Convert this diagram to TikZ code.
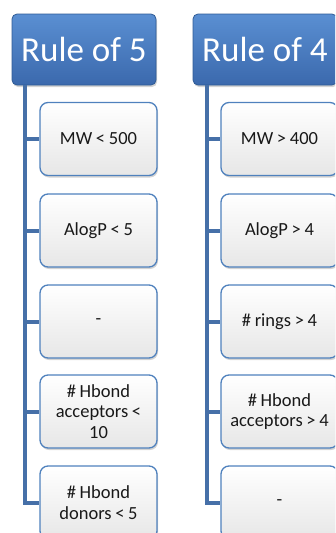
\documentclass[tikz,border=0pt]{standalone}
\usepackage{fontspec}
\setmainfont{Carlito}
\usetikzlibrary{shadows}
\definecolor{hdrtop}{HTML}{5A8FD2}
\definecolor{hdrbot}{HTML}{3B69AD}
\definecolor{hdredge}{HTML}{2F5B95}
\definecolor{itemedge}{HTML}{4F81BD}
\definecolor{itemfill}{HTML}{F2F2F2}
\definecolor{trunk}{HTML}{4670A8}
\newcommand{\tightspaces}{\spaceskip=0.2em\relax\xspaceskip=0.2em\relax}
\begin{document}
\begin{tikzpicture}[x=1pt,y=-1pt,
  header/.style={draw=hdredge, line width=0.8pt, rounded corners=5pt,
    top color=hdrtop, bottom color=hdrbot, text=white,
    minimum width=144pt, minimum height=71pt, inner sep=0pt,
    font=\fontsize{35}{40}\selectfont,
    drop shadow={shadow xshift=1pt, shadow yshift=-2pt, opacity=0.35}},
  item/.style={draw=itemedge, line width=1.3pt, rounded corners=8pt,
    top color=white, bottom color=itemfill!90!gray, text=black!90,
    minimum width=117pt, minimum height=73pt, inner sep=0pt,
    text width=112pt, align=center,
    font=\fontsize{18.5}{20.5}\selectfont,
    execute at begin node=\tightspaces,
    drop shadow={shadow xshift=1pt, shadow yshift=-2pt, opacity=0.35}},
  link/.style={draw=trunk, line width=4pt}]
\useasboundingbox (0,0) rectangle (335,533);
\begin{scope}
\clip (0,0) rectangle (335,533);

% left column: Rule of 5
\node[header] (h5) at (84,49.5) {Rule of 5};
\coordinate (t5) at (25,85);
\node[item] (a1) at (98.5,139) {MW < 500};
\node[item] (a2) at (98.5,230.5) {AlogP < 5};
\node[item] (a3) at (98.5,321.5) {-};
\node[item] (a4) at (98.5,411.5) {\# Hbond\\acceptors <\\10};
\node[item] (a5) at (98.5,502.5) {\# Hbond\\donors < 5};
\draw[link] (t5) |- (a5.west);
\foreach \n in {a1,a2,a3,a4}
  \draw[link] (t5 |- \n.west) -- (\n.west);

% right column: Rule of 4
\node[header] (h4) at (265,49.5) {Rule of 4};
\coordinate (t4) at (207,85);
\node[item] (b1) at (279.5,139) {MW > 400};
\node[item] (b2) at (279.5,230.5) {AlogP > 4};
\node[item] (b3) at (279.5,321.5) {\# rings > 4};
\node[item] (b4) at (279.5,411.5) {\# Hbond\\acceptors > 4};
\node[item] (b5) at (279.5,502.5) {-};
\draw[link] (t4) |- (b5.west);
\foreach \n in {b1,b2,b3,b4}
  \draw[link] (t4 |- \n.west) -- (\n.west);
\end{scope}
\end{tikzpicture}
\end{document}
